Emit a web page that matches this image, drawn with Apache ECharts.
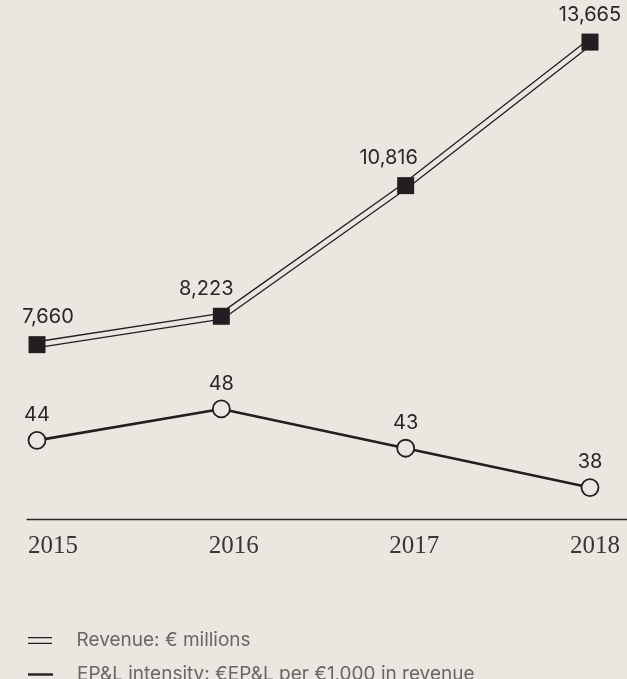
<!DOCTYPE html>
<html>
<head>
<meta charset="utf-8">
<script src="https://cdn.jsdelivr.net/npm/echarts@6/dist/echarts.min.js"></script>
<style>
  html, body { margin: 0; padding: 0; background: #ebe6e0; }
  #chart { width: 627px; height: 679px; }
</style>
</head>
<body>
<div id="chart"></div>
<script>
// Years shown along the bottom axis
const years = ['2015', '2016', '2017', '2018'];
// Revenue in € millions
const revenue = [7660, 8223, 10816, 13665];
// EP&L intensity: €EP&L per €1,000 in revenue
const intensity = [44, 48, 43, 38];
// Legend entries
const revenueName = 'Revenue: € millions';
const intensityName = 'EP&L intensity: €EP&L per €1,000 in revenue';

// Horizontal nudges for the revenue value labels so they clear the line
const revenueLabelShift = [11, -15, -17, 0];

const BG = '#ebe6e0';
const INK = '#231f20';
const SANS = 'Inter, "Noto Sans", sans-serif';

const chart = echarts.init(document.getElementById('chart'), null, { renderer: 'canvas' });

const numLabel = (dist) => ({
  show: true,
  position: 'top',
  distance: dist,
  color: '#2a2627',
  fontFamily: SANS,
  fontSize: 20,
  formatter: (p) => Number(p.value).toLocaleString('en-US')
});

const legendText = {
  color: '#6b6663',
  fontFamily: SANS,
  fontSize: 19,
  lineHeight: 16,
  padding: [0, 0, 0, 19]
};

chart.setOption({
  backgroundColor: BG,
  animation: false,
  grid: [
    // plotting area
    { left: 37, right: 37, top: 0, bottom: 160 },
    // baseline rule
    { left: 27, right: 0, top: 0, bottom: 160 },
    // year labels
    { left: 53, right: 32, top: 0, bottom: 160 }
  ],
  xAxis: [
    {
      type: 'category',
      gridIndex: 0,
      data: years,
      boundaryGap: false,
      axisLine: { show: false },
      axisTick: { show: false },
      axisLabel: { show: false },
      splitLine: { show: false }
    },
    {
      type: 'value',
      gridIndex: 1,
      min: 0,
      max: 1,
      axisLine: { show: true, lineStyle: { color: '#2f2b2b', width: 1.3 } },
      axisTick: { show: false },
      axisLabel: { show: false },
      splitLine: { show: false }
    },
    {
      type: 'category',
      gridIndex: 2,
      data: years,
      boundaryGap: false,
      axisLine: { show: false },
      axisTick: { show: false },
      axisLabel: {
        color: '#3a3636',
        fontFamily: '"Liberation Serif", "DejaVu Serif", serif',
        fontSize: 25,
        margin: 15
      },
      splitLine: { show: false }
    }
  ],
  yAxis: [
    { type: 'value', gridIndex: 0, min: 4200, max: 14500, show: false, splitLine: { show: false } },
    { type: 'value', gridIndex: 0, min: 34, max: 100, show: false, splitLine: { show: false } },
    { type: 'value', gridIndex: 1, show: false, splitLine: { show: false } },
    { type: 'value', gridIndex: 2, show: false, splitLine: { show: false } }
  ],
  legend: [
    {
      data: [{ name: revenueName, icon: 'path://M0,0H25V1.3H0Z M0,6H25V7.3H0Z' }],
      left: 28,
      top: 631,
      padding: 0,
      itemWidth: 25,
      itemHeight: 7,
      selectedMode: false,
      itemStyle: { color: INK, borderWidth: 0 },
      textStyle: legendText
    },
    {
      data: [{ name: intensityName, icon: 'path://M0,0H25V2.4H0Z' }],
      left: 28,
      top: 665,
      padding: 0,
      itemWidth: 25,
      itemHeight: 2.4,
      selectedMode: false,
      itemStyle: { color: INK, borderWidth: 0 },
      textStyle: legendText
    }
  ],
  series: [
    // outer stroke of the double revenue line
    {
      type: 'line',
      name: 'revenue-outer',
      xAxisIndex: 0, yAxisIndex: 0,
      data: revenue,
      symbol: 'none',
      z: 2,
      lineStyle: { color: INK, width: 7.2 },
      silent: true
    },
    // inner gap of the double revenue line
    {
      type: 'line',
      name: 'revenue-inner',
      xAxisIndex: 0, yAxisIndex: 0,
      data: revenue,
      symbol: 'none',
      z: 3,
      lineStyle: { color: BG, width: 4.6 },
      silent: true
    },
    // revenue markers and value labels
    {
      type: 'line',
      name: revenueName,
      xAxisIndex: 0, yAxisIndex: 0,
      data: revenue.map((v, i) => ({ value: v, label: { offset: [revenueLabelShift[i], 0] } })),
      z: 4,
      symbol: 'rect',
      symbolSize: 17,
      itemStyle: { color: INK },
      lineStyle: { width: 0, opacity: 0 },
      label: numLabel(9)
    },
    // EP&L intensity line with hollow circles
    {
      type: 'line',
      name: intensityName,
      xAxisIndex: 0, yAxisIndex: 1,
      data: intensity,
      z: 4,
      symbol: 'circle',
      symbolSize: 17,
      itemStyle: { color: BG, borderColor: INK, borderWidth: 1.8 },
      lineStyle: { color: INK, width: 2.6 },
      label: numLabel(6)
    }
  ]
});
</script>
</body>
</html>
